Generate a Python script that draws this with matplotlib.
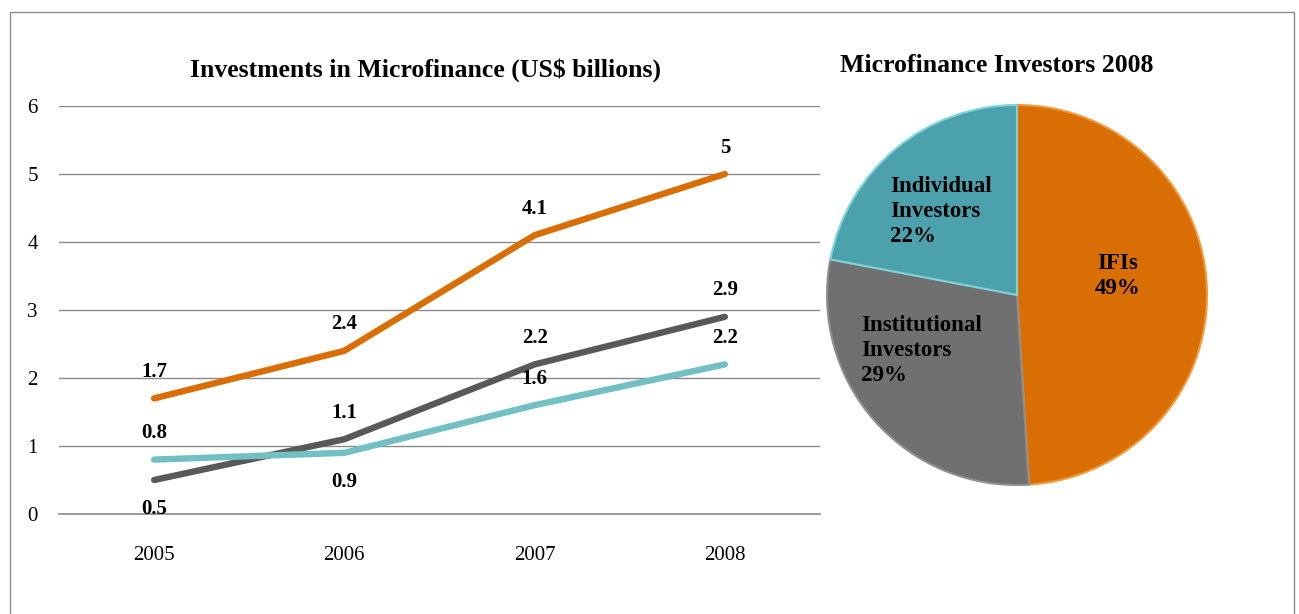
import matplotlib
matplotlib.use("Agg")
import matplotlib.pyplot as plt
from matplotlib.patches import Rectangle

plt.rcParams["font.family"] = ["Liberation Serif", "DejaVu Serif"]

years = ["2005", "2006", "2007", "2008"]
total = [1.7, 2.4, 4.1, 5.0]
institutional = [0.5, 1.1, 2.2, 2.9]
individual = [0.8, 0.9, 1.6, 2.2]

pie_labels = ["IFIs", "Institutional\nInvestors", "Individual\nInvestors"]
pie_shares = [49, 29, 22]

ORANGE, DGREY, TEAL = "#d86e04", "#595959", "#72bfc4"
PIE_COLS = ["#d86e04", "#707070", "#4ba2ac"]
GRID = "#8a8a8a"

W, H = 1299, 614
fig = plt.figure(figsize=(W / 100, H / 100), dpi=100)

# outer frame
fig.add_artist(Rectangle((10 / W, -0.05), 1284 / W, 1.05 - 12 / H, transform=fig.transFigure,
                         fill=False, ec="#8c8c8c", lw=1.0))

# ---- line chart
ax = fig.add_axes([59 / W, 100 / H, 761 / W, 408 / H])
x = range(len(years))
series = [(total, ORANGE, ["a", "a", "a", "a"]),
          (institutional, DGREY, ["b", "a", "a", "a"]),
          (individual, TEAL, ["a", "b", "a", "a"])]
for ys, c, pos in series:
    ax.plot(x, ys, color=c, lw=4.6, solid_capstyle="round", solid_joinstyle="round", zorder=3)
    for i, (v, p) in enumerate(zip(ys, pos)):
        off = 19 if p == "a" else -21
        ax.annotate(f"{v:g}", (i, v), xytext=(0, off), textcoords="offset points",
                    ha="center", va="center", fontsize=15, fontweight="bold", color="black")
ax.set_xlim(-0.5, 3.5)
ax.set_ylim(0, 6)
ax.set_yticks(range(7))
ax.set_xticks(list(x))
ax.set_xticklabels(years)
ax.grid(axis="y", color=GRID, lw=1.0)
ax.set_axisbelow(True)
for s in ["top", "right", "left"]:
    ax.spines[s].set_visible(False)
ax.spines["bottom"].set_color(GRID)
ax.spines["bottom"].set_linewidth(1.2)
ax.tick_params(axis="both", length=0, labelsize=15)
ax.tick_params(axis="y", pad=19)
ax.tick_params(axis="x", pad=23)
for t in ax.get_yticklabels():
    t.set_horizontalalignment("center")
ax.set_title("Investments in Microfinance (US$ billions)", fontsize=18.5, fontweight="bold",
             pad=21, x=0.481)

# ---- pie chart
pax = fig.add_axes([827 / W, 129 / H, 380 / W, 380 / H])
wedges, _ = pax.pie(pie_shares, colors=PIE_COLS, startangle=90, counterclock=False, radius=1.0,
                    wedgeprops=dict(linewidth=1.5))
for w, ec in zip(wedges, ["#f29a3c", "#8f8f8f", "#7fd3da"]):
    w.set_edgecolor(ec)
pax.set_xlim(-1.0, 1.0)
pax.set_ylim(-1.0, 1.0)
pax.set_aspect("equal")
label_xy = [(0.53, 0.10, "center"), (-0.82, -0.29, "left"), (-0.67, 0.44, "left")]
for (lx, ly, ha), lab, sh in zip(label_xy, pie_labels, pie_shares):
    pax.text(lx, ly, f"{lab}\n{sh}%", ha=ha, va="center", fontsize=16.5, fontweight="bold",
             linespacing=1.25)
fig.text(997 / W, 1 - 66 / H, "Microfinance Investors 2008", ha="center", va="center",
         fontsize=18.5, fontweight="bold")

fig.savefig("out.png", dpi=100)
